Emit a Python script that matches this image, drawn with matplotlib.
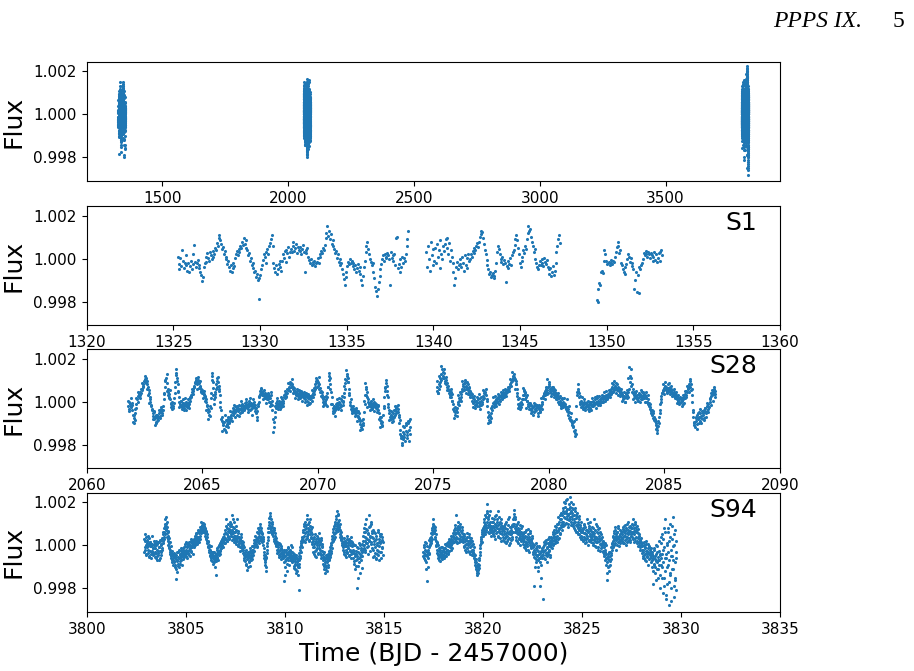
import numpy as np
import matplotlib
matplotlib.use('Agg')
import matplotlib.pyplot as plt

# flux offsets in units of 1e-5 (flux = 1 + v * 1e-5)
# each list is one pass over a continuous stretch of a TESS sector, evenly sampled
# between the stretch start/end time; a second pass over the same stretch fills in the scatter
s1_spans = [(1325.25, 1338.55), (1339.6, 1347.3), (1349.42, 1353.2)]
s1_a = [10, -25, -50, 5, -35, 40, -10, -45, -20, 15,
        -30, -55, -20, -60, -35, -10, -50, -25, 20, 65,
        -15, -40, -20, -5, -45, -30, -60, -75, -105, -85,
        -40, -20, 10, -15, 25, 5, -10, 30, 15, 0,
        10, 35, 20, 50, 40, 75, 60, 95, 110, 85,
        70, 45, 55, 20, 35, 0, 10, -25, -10, -40,
        -55, -30, -60, -45, -20, -35, 5, 20, 35, 15,
        45, 30, 60, 50, 80, 65, 95, 70, 85, 50,
        40, 15, 25, -10, 5, -30, -45, -20, -60, -55,
        -85, -70, -100, -90, -185, -75, -50, -30, -5, 20,
        10, -20, 30, 45, 20, 60, 75, 90, 110, 60,
        -20, -45, -60, -30, -70, -50, -25, -40, -10, -55,
        -10, 20, 5, 35, -15, 40, 25, 55, 10, 30,
        45, 30, 60, 80, 35, 50, 70, 25, 55, 40,
        35, 55, 20, 45, 65, 30, -60, 40, 25, 50,
        10, -5, -20, 0, -30, -15, -25, -10, -35, -20,
        -15, 5, -20, 20, 10, 35, 25, 50, 40, 65,
        95, 120, 150, 105, 130, 90, 115, 70, 85, 60,
        45, 25, 35, 5, 20, -15, 0, -30, -20, -50,
        -70, -95, -120, -85, -60, -35, -15, -25, 0, -20,
        -10, -35, -20, -50, -30, -60, -45, -25, -55, -40,
        -70, -100, -120, -80, -40, -10, 30, 60, 80, 45,
        20, 0, -15, -30, -20, -60, -90, -130, -150, -175,
        -140, -110, -80, -50, -25, 0, 15, -10, 20, 5,
        10, 25, 15, 0, -120, 30, 5, 15, -10, 20,
        -30, 95, 100, -45, -25, -60, 0, -40, 10, -20,
        5, -10, 20, 60, 90, 130]
s1_b = [30, -40, 60, 0, -55, 80, 15, -30, 45, -10,
        50, -20, 70, 10, 40, -45, 85, 20, 0, 60,
        35, 70, 90, 50, 95, 20, 75, -10, 40, 10,
        -20, -60, -120, -90, -40, -15, -50, -30, 0, -25,
        -40, 10, -20, -55, 15, -30, 5, -45, 20, -10,
        0, 20, 10, 35, 25, 50, 40, 60, 75, 55,
        80, 100, 115, 130, 125, 95, 70, 40, 20, -5,
        -30, -50, -70, -60, -85, -75, -65, -80, -90, -55,
        -20, 30, 60, 45, 20, 0, -15, 10, -25, -5,
        -20, -110, -35, -10, -45, -25, 5, -30, 15, 30,
        40, 65, 90, 110, 85, 50, 20, -20, -40, -10,
        10, 40, 25, 60, 45, 90, 120, 150, 130, 140,
        100, 80, 60, 30, 45, 0, -20, -40, -50, -30,
        -10, -30, 0, -20, -35, 5, -15, -25, -5, -40,
        -50, -70, -45, -80, -60, -35, -75, -55, -20, 30,
        60, 90, 110, 75]
s1_c = [-190, -200, -140, -115, -120, -60, -55, -65, -10, 40,
        20, -10, -25, -20, -15, -30, -5, -20, -25, -10,
        -15, 10, 30, 55, 80, 60, 25, 40, -20, -30,
        -50, -60, -40, -70, -25, 0, 20, 10, -15, 5,
        -20, -35, -50, -140, -100, -60, -155, -75, -40, -160,
        -50, -30, -20, 0, 25, 15, 35, 20, 10, 30,
        20, 5, 25, 15, -10, 10, 30, -5, 20, -15,
        5, 25, -10, 30, 40, 15]

s28_spans = [(2061.8, 2074.0), (2075.15, 2087.2)]
s28_a = [-20, 0, -35, -10, -25, 15, -40, -15, -60, -75, -100, -85, -55, -30, -10, 10, 0, 25, 35, 20,
         30, 45, 40, 60, 55, 75, 80, 95, 90, 105, 110, 100, 95, 80, 70, 55, 40, 20, 10, -15,
         -20, -40, -55, -65, -50, -80, -70, -95, -100, -75, -60, -85, -70, -55, -45, -65, -50, -35, -60, -40,
         -20, 10, 40, 70, 100, 110, 85, 50, 30, 45, 20, 35, 10, -10, -25, -15, 0, -30, -20, -5,
         40, 90, 125, 135, 110, 80, 45, 20, 0, -10, -20, 5, -15, -25, 10, -5, -20, -30, -10, 0,
         -15, -25, -5, -20, 0, -10, 15, 5, 30, 20, 45, 60, 50, 75, 70, 90, 85, 100, 95, 80,
         100, 90, 85, 70, 75, 60, 50, 55, 40, 45, 30, 35, 20, 25, 10, 0, -20, -35, -50, -60,
         -45, -65, -30, 40, 100, 120, 90, 30, 10, 20, 45, 60, 80, 95, 110, 90, 75, 60, 30, 0,
         -40, -70, -90, -110, -100, -125, -95, -130, -115, -85, -105, -90, -120, -80, -95, -70, -85, -60, -75, -50,
         -45, -30, -55, -40, -20, -50, -35, -60, -25, -45, -30, -15, -40, -55, -20, -35, -45, -10, -30, -25,
         -20, -5, -30, -15, 0, -25, -35, -10, 5, -20, -40, -15, -5, -30, -20, 10, -10, -25, -45, -15,
         -30, -55, -70, -45, -20, 0, 20, 35, 50, 45, 60, 40, 30, 50, 25, 35, 15, 20, 30, 10,
         20, 35, 10, 25, 0, 15, 30, -10, 5, -40, -80, -120, -95, -50, -20, -5, -15, 5, -25, -10,
         -20, -5, -15, 0, -25, -10, 10, 5, -5, 20, 15, 35, 25, 45, 40, 60, 55, 70, 65, 80,
         90, 85, 75, 80, 60, 70, 50, 55, 40, 45, 30, 50, 35, 25, 40, 20, 45, 30, 35, 25,
         40, 30, 20, 35, 15, 25, 10, 30, 5, 20, 15, 0, 25, 10, -5, 20, 15, 5, 30, 40,
         50, 65, 80, 70, 95, 85, 100, 90, 75, 80, 60, 65, 45, 50, 30, 20, 10, 0, -10, 5,
         -5, 10, -15, 20, 40, 70, 100, 120, 110, 80, 45, 20, -10, -30, -45, -35, -50, -40, -25, -30,
         -20, -5, -30, -15, 0, -25, -10, 10, -20, 5, 0, -15, 20, 40, 60, 85, 100, 120, 130, 110,
         90, 60, 30, 0, -20, -35, -45, -30, -40, -50, -35, -45, -55, -40, -60, -50, -70, -65, -80, -75,
         -90, -105, -120, -110, -125, -100, -80, -50, -10, 30, 60, 70, 45, 20, 0, -10, -20, -5, -15, -25,
         -10, -20, -5, -25, -15, 0, -20, -30, -10, -25, -35, -15, -40, -55, -70, -85, -100, -90, -110, -95,
         -60, -20, 20, 50, 70, 85, 75, 50, 20, -10, -40, -55, -70, -60, -80, -65, -50, -75, -90, -70,
         -60, -40, -30, -45, -20, -35, -50, -70, -100, -130, -150, -170, -190, -160, -140, -175, -120, -150, -185, -135,
         -110, -140, -170, -100, -130, -90, -150, -80]
s28_a2 = [5, -45, -20, -5, -95, -60, -35, 15, 45, 30,
          15, 60, 85, 70, 120, 85, 60, 30, -5, 0,
          -35, -80, -45, -110, -60, -90, -40, -75, -25, -55,
          -40, 35, 95, 130, 60, 15, 55, -5, -35, 15,
          70, 150, 95, 50, -25, 5, -35, -5, -40, 15,
          -40, 10, -30, 20, 25, 60, 35, 70, 110, 60,
          115, 65, 95, 45, 15, 50, 5, -40, -15, -80,
          -20, 15, 135, 65, -10, 35, 70, 115, 50, -25,
          -80, -135, -95, -60, -140, -110, -70, -100, -45, -90,
          -60, -15, -70, -40, -20, -65, -35, 5, -50, -20,
          -40, 10, -25, -50, -5, 15, -35, -60, 0, -30,
          -50, -85, -10, 25, 65, 30, 10, 55, 40, -5,
          40, 0, -20, 45, -15, -140, -70, -30, 15, -35,
          5, -35, 20, -20, 30, 50, 20, 60, 85, 50,
          70, 105, 40, 65, 15, 60, 10, 55, 15, 50,
          5, 45, 0, 40, -15, 35, -10, 25, 55, 20,
          35, 60, 110, 70, 115, 45, 25, 45, -20, 20,
          25, -20, 70, 135, 60, -10, -55, -20, -65, -10,
          10, -35, 15, -40, 25, 5, 75, 105, 145, 90,
          40, -15, 10, -55, -20, -65, -30, -90, -45, -55,
          -130, -85, -110, 5, 85, 30, -25, 10, -40, 5,
          -35, 10, -45, -5, -50, -20, -80, -120, -70, -115,
          -30, 65, 100, 30, -25, -85, -45, -95, -55, -40,
          -20, -55, -15, -60, -85, -160, -200, -115, -165, -100,
          -155, -90, -185, -120]
s28_b = [50, 70, 40, 80, 60, 90, 110, 100, 130, 150, 140, 120, 135, 110, 95, 100, 80, 70, 85, 60,
         55, 40, 50, 30, 45, 20, 35, 5, -10, -30, -45, -60, -50, -40, -65, -30, -10, 0, 15, 5,
         10, 20, 35, 50, 60, 75, 80, 70, 90, 85, 60, 75, 65, 80, 55, 70, 45, 50, 30, 40,
         20, 5, 15, -5, 10, 0, -15, 5, -10, 20, -5, 10, -20, 0, 15, -10, 5, -15, 0, 10,
         25, 40, 50, 35, 45, 30, 10, -20, -50, -70, -85, -90, -65, -75, -55, -40, -20, -5, 0, -10,
         5, -10, 10, 0, 15, -5, 20, 10, 25, 5, 30, 20, 15, 35, 25, 40, 30, 45, 35, 50,
         40, 55, 45, 60, 70, 65, 80, 75, 90, 100, 95, 110, 120, 130, 115, 105, 95, 80, 60, 40,
         10, -10, -20, -5, -15, -25, 0, -10, 10, 30, 50, 55, 40, 45, 20, 30, 5, -10, -20, -5,
         -20, -35, -15, -40, -30, -45, -25, -50, -20, -35, -10, -30, -40, -20, -55, -25, -35, -15, -45, -30,
         -20, 0, -10, 15, 25, 40, 30, 50, 45, 60, 35, 55, 70, 90, 75, 60, 50, 65, 40, 55,
         50, 35, 45, 60, 30, 40, 20, 35, 10, 25, 0, 15, -10, 5, -20, -5, 10, -15, 0, -10,
         -5, -20, -10, -30, -25, -45, -35, -60, -50, -75, -70, -90, -85, -100, -110, -95, -120, -135, -145, -130,
         -80, -20, 30, 60, 50, 40, 20, 0, -10, 5, -20, -5, -15, -25, 0, -10, -30, -20, -5, -15,
         -20, -35, -10, -25, -5, -30, -15, 0, -20, -10, 5, -15, -5, 10, -10, 0, 15, -5, 5, -10,
         0, 10, -5, 15, 5, 20, 0, 10, 25, 15, 5, 20, 30, 10, 25, 35, 20, 40, 30, 45,
         50, 60, 45, 70, 65, 80, 55, 75, 70, 60, 85, 65, 55, 70, 50, 60, 40, 55, 45, 35,
         30, 20, 10, 25, 15, 0, 20, 35, 15, 30, 45, 20, 60, 90, 120, 150, 110, 80, 60, 40,
         30, 15, 25, 40, 20, 10, 30, 15, 5, 20, 35, 25, 10, 30, 20, 45, 25, 15, 35, 20,
         30, 15, 20, 0, 10, -10, -5, -20, -35, -25, -45, -40, -60, -55, -75, -70, -90, -85, -100, -110,
         -120, -130, -115, -100, -70, -40, -10, 10, 25, 40, 55, 50, 65, 60, 75, 55, 70, 45, 60, 50,
         65, 55, 70, 45, 60, 50, 40, 55, 35, 45, 25, 40, 20, 30, 10, 25, 5, 15, 0, 10,
         -5, 10, 0, 15, 5, -10, 10, 20, 15, 35, 30, 50, 45, 65, 60, 80, 75, 95, 70, 55,
         30, 0, -40, -70, -95, -100, -120, -90, -75, -105, -60, -80, -50, -70, -90, -55, -75, -65, -45, -80,
         -60, -40, -75, -50, -30, -55, -20, -45, -35, -10, -25, 0, 10, 25, 40, 30, 55, 45, 60, 35, 50, 20]
s28_b2 = [95, 40, 120, 75, 165, 110, 150, 85, 115, 55,
          75, 20, 60, 5, -35, -75, -25, -50, 30, -15,
          45, 5, 95, 55, 100, 40, 90, 35, 65, 20,
          35, -25, 25, -30, 5, -20, 35, -35, 20, -10,
          55, 15, 60, 5, -100, -60, -95, -30, 20, -25,
          25, -20, 5, 35, -10, 45, 10, 55, 20, 60,
          25, 70, 50, 105, 75, 140, 100, 60, 80, 25,
          -30, 15, -35, 10, 65, 30, 10, -30, 5, -35,
          -5, -55, -20, -60, -5, -45, -15, -65, -20, -50,
          15, -35, 35, 10, 70, 105, 40, 80, 25, 70,
          70, 20, 55, 10, 40, -10, 25, -30, 15, -25,
          15, -35, 10, -50, -20, -85, -55, -115, -90, -160,
          -150, 45, 80, 25, -25, 20, -35, 10, -40, 0,
          5, -45, 0, -40, 15, -20, 20, -30, 25, -15,
          25, -15, 30, 0, 45, 15, 50, 10, 55, 20,
          35, 85, 45, 95, 40, 80, 30, 65, 25, 60,
          5, 45, 0, 40, 55, 110, 160, 75, 45, 10,
          45, 0, 50, 5, 40, 0, 55, 10, 45, 0,
          45, 0, 30, -15, -10, -55, -45, -85, -80, -125,
          -145, -90, -55, 0, 40, 80, 35, 90, 40, 80,
          85, 35, 75, 25, 60, 15, 45, -5, 30, -10,
          20, -20, 30, -5, 50, 20, 75, 45, 105, 80,
          60, -50, -110, -70, -125, -55, -100, -35, -100, -55,
          -85, -30, -70, -5, -50, 15, -15, 40, 5, 70, 35]

s94_spans = [(3802.9, 3814.95), (3817.0, 3829.75)]
s94_a = [30, -20, 50, 0, -40, 20, -10, 45, -35, 10, -50, 15, -25, -5, -60, 5, -30, -15, -45, 0,
         -40, 10, -30, -60, 0, -20, -50, 15, -35, -10, -70, 20, -25, 5, -45, 30, -15, 50, 10, 40,
         60, 90, 120, 100, 75, 110, 40, 60, 20, 45, -10, 10, -30, -20, -50, -35, -70, -45, -60, -90,
         -50, -80, -40, -100, -65, -155, -30, -75, -55, -95, -20, -60, -85, -45, -70, -25, -50, -35, -65, -15,
         -40, -10, -30, 5, -50, -20, 10, -35, -5, -25, 15, -45, 0, -15, 20, -30, 10, -10, 25, -5,
         0, 30, 10, 45, 20, 50, 5, 40, 60, 25, 55, 35, 70, 45, 80, 60, 95, 75, 100, 85,
         90, 60, 75, 45, 65, 30, 50, 10, 20, -10, 0, -30, -20, -50, -35, -60, -40, -75, -55, -30,
         -50, -80, -35, -65, -140, -45, -20, -55, -30, -10, -45, 0, -25, 10, -15, 20, 0, 30, -10, 15,
         25, 40, 10, 55, 120, 30, 50, 20, 65, 40, 75, 35, 60, 90, 45, 100, 70, 140, 85, 55,
         60, 30, 110, 45, 15, 70, 25, 120, 35, 0, 55, 20, 40, -10, 30, 10, 50, -20, 20, 0,
         -20, -45, -60, -30, -75, -50, -90, -40, -65, -100, -35, -55, -80, -25, -60, -45, -70, -20, -50, -30,
         -20, 10, -10, 25, 0, 40, 15, -5, 30, 55, 20, 70, 45, 100, 60, 35, 80, 50, 20, 40,
         0, -30, -60, -80, -45, -100, -55, -20, 10, 40, 80, 110, 60, 150, 90, 120, 70, 100, 50, 80,
         60, 30, 70, 10, 45, 0, 20, -20, 15, -30, -10, -45, -25, 5, -50, -35, -15, -60, -30, -40,
         -60, -165, -30, -75, -140, -45, -20, -60, -85, -35, -10, -55, -25, -70, -40, 0, -50, -80, -30, -45,
         -60, -95, -40, -110, -75, -130, -55, -90, -120, -70, -100, -50, -85, -210, -60, -20, 0, 20, -10, 30,
         40, 70, 20, 90, 55, 110, 30, 80, 140, 45, 65, 100, 25, 75, 50, 120, 35, 60, 15, 85,
         20, -30, 40, -10, 10, -50, 30, -20, 0, 45, -40, 15, -15, 25, -35, 5, -60, 35, -5, -25,
         -40, -70, -55, -95, -80, -130, -60, -100, -75, -120, -50, -90, -35, -65, -20, -45, 0, -25, 15, 30,
         40, 60, 30, 80, 55, 100, 70, 120, 90, 160, 110, 140, 75, 95, 50, 70, 25, 45, 0, 20,
         -10, 15, -30, 5, -45, 20, -20, -5, 30, -35, 0, -15, 25, -50, 10, -25, 40, -40, -5, 15,
         -20, -60, 0, -85, -40, -110, -25, -70, -200, -50, -15, -95, -35, 10, -55, -130, -20, -45, 5, -30,
         20, -20, 60, 0, 100, -30, 40, 10, 75, -10, 30, 55, -40, 140, 20, 90, 45, 110, 5, 65,
         40, -20, 70, -50, 20, -10, 55, -60, 30, 0, -40, 60, -25, 15, -70, 45, 10, -30, 50, -15, 25, -45]
s94_a2 = [-30, 20, -10, 40, -45, 10, 25, -20, 0, -55, 35, -5, 15, -40, 5, -25, 45, -15, -35, 20,
          0, -55, -15, 20, -35, -70, 5, -25, -45, 15, -10, -60, 25, -30, 0, -20, 35, 20, 60, 30,
          80, 50, 100, 70, 130, 55, 85, 30, 65, 0, 35, -15, 15, -40, -5, -60, -25, -80, -40, -70,
          -75, -35, -90, -55, -110, -45, -70, -125, -30, -85, -60, -100, -40, -75, -15, -55, -90, -30, -45, -20,
          -25, -55, -5, -40, 15, -30, -10, -60, 0, -35, -20, 5, -50, -15, 30, -25, -5, 15, -40, 10,
          15, -10, 35, 0, 25, 55, 10, 30, 70, 40, 15, 60, 85, 30, 55, 110, 70, 90, 60, 105,
          75, 100, 55, 80, 35, 60, 20, 40, -5, 15, -20, -10, -45, -25, -5, -70, -45, -30, -85, -50,
          -65, -30, -100, -55, -75, -40, -60, -15, -35, -70, -25, -5, -40, -20, 5, -15, 15, -5, 25, 40,
          50, 10, 70, 35, 90, 55, 20, 80, 45, 100, 60, 30, 110, 70, 50, 90, 25, 65, 120, 40,
          45, 80, 15, 60, 35, 90, 5, 45, 20, 65, -5, 35, 10, -25, 25, -5, 40, 0, -15, 15,
          -35, -70, -10, -55, -40, -85, -20, -50, -115, -60, -30, -75, -45, -95, -15, -55, -35, -65, -5, -45,
          -5, 25, -25, 15, 45, 5, 20, 60, -10, 35, 80, 10, 55, 25, 85, 40, 65, 15, 55, 30,
          20, -15, -45, -70, -90, -60, -120, -35, -5, 25, 60, 95, 125, 80, 135, 105, 60, 85, 110, 65,
          45, 80, 20, 55, 30, -5, 35, 10, -35, 0, -20, -55, 10, -40, -20, -65, -5, -50, -20, -55,
          -45, -80, -20, -100, -50, -30, -65, -120, -40, -15, -70, -45, -90, -20, -55, -30, -70, -10, -60, -35,
          -75, -50, -105, -65, -85, -45, -115, -80, -60, -140, -90, -70, -35, -100, -50, -10, -30, 10, 40, 15,
          60, 25, 100, 45, 75, 15, 95, 60, 120, 35, 80, 50, 110, 20, 65, 90, 40, 75, 5, 50,
          -10, 30, -40, 5, 50, -25, 20, -55, 10, -15, 35, -35, 0, 55, -20, 15, -45, 25, -10, 5,
          -55, -85, -30, -110, -65, -90, -45, -115, -80, -60, -100, -40, -70, -25, -55, -10, -35, 10, -15, 45,
          20, 75, 50, 90, 40, 110, 60, 135, 80, 100, 145, 65, 115, 85, 40, 100, 60, 30, 10, 35,
          5, -20, 35, -40, -5, 20, -55, 10, -30, 45, -15, 15, -45, 30, 0, -20, 20, -60, 10, -30,
          -35, 5, -75, -25, -50, 0, -95, -40, -65, -10, -150, -30, -60, -80, 0, -40, -70, -15, -105, -50,
          0, 45, -15, 80, 20, -20, 60, 35, 120, 10, 70, -5, 50, 25, 85, -25, 40, 100, 15, 55,
          -15, 35, -55, 60, 5, -35, 25, -65, 45, -20, 10, 70, -45, 30, -5, 50, -30, 20, -60, 40, -10, 15]
s94_b = [-30, 0, -60, -20, -45, 10, -80, -165, -50, -30, -100, -10, -40, 20, 0, 40, 20, 70, 50, 90,
         100, 80, 60, 40, 70, 20, 0, -20, 10, -40, -60, -25, -70, -45, -20, -55, -35, -65, -10, -50,
         -60, -30, -45, -15, -50, 0, -35, -20, 10, -40, -5, 20, -25, 15, -10, 30, 0, 25, -15, 40,
         20, 60, 35, 80, 50, 140, 40, 70, 10, 90, 55, 30, 75, 45, 100, 25, 65, 40, 85, 50,
         30, -10, 45, 0, 20, -30, 35, -15, 55, 10, -25, 40, 5, -40, 25, -5, 15, -20, 0, -35,
         -20, -50, -40, -70, -90, -80, -110, -120, -140, -100, -130, -90, -60, -30, 0, 20, 40, 60, 50, 80,
         60, 90, 70, 110, 50, 100, 130, 80, 150, 190, 120, 60, 95, 140, 75, 110, 45, 85, 125, 65,
         90, 50, 120, 70, 100, 30, 85, 140, 60, 110, 40, 95, 75, 130, 55, 80, 20, 105, 65, 90,
         40, 80, 20, 65, 100, 35, 55, 10, 75, 45, 120, 30, 60, 0, 85, 50, 25, 70, 40, 95,
         60, 100, 130, 165, 120, 80, 40, 90, 20, 70, 50, 110, 30, 60, 0, 45, 80, 25, 55, 35,
         20, 50, -10, 35, 0, 60, 15, -20, 40, 5, 75, 25, -30, 30, 10, 55, -15, 20, -5, 45,
         -10, -40, -190, 0, -60, -30, -80, 10, -50, -20, -70, -100, -40, -5, -60, -190, -25, -90, -45, -15,
         -250, -30, 0, -60, 20, -20, -45, 10, -80, -10, 30, -40, -5, 40, -25, 15, -55, 5, 25, -15,
         20, 50, 0, 40, 70, 10, 55, 30, 85, 45, 15, 65, 100, 35, 80, 120, 50, 95, 150, 70,
         110, 160, 90, 200, 130, 180, 100, 150, 210, 120, 170, 85, 140, 190, 115, 225, 130, 160, 95, 175,
         150, 100, 190, 120, 80, 160, 110, 60, 140, 90, 130, 50, 100, 70, 120, 40, 85, 60, 30, 75,
         60, 20, 80, 40, 100, 10, 55, 70, 30, 120, 45, 0, 65, 90, 25, 50, 75, 15, 40, 85,
         30, 60, 0, 45, 120, 20, 70, -10, 40, 90, 15, 55, -20, 35, 80, 5, 25, -15, 50, 10,
         -10, 20, -30, 0, -50, -20, 10, -60, -40, -160, -80, -100, -55, -120, -70, -30, -90, -45, -65, -20,
         -10, 20, 40, 0, 55, 25, 70, 10, 45, -20, 35, 60, 15, 80, 30, -5, 50, 20, 65, 40,
         30, 60, 10, 75, 45, 90, 25, 55, 0, 70, 40, 100, 20, 50, 85, 35, 65, 15, 80, 45,
         60, 100, 30, 120, 50, 80, 20, 110, 70, 40, 90, 10, 55, 75, 0, 45, 25, -10, 35, 15,
         -20, 10, -50, -30, 0, -60, -15, -40, 20, -75, -25, -50, 5, -35, -65, -10, -45, -20, -80, -30,
         -40, -100, -180, -60, -20, -90, -130, -50, -75, 0, -110, -30, -150, -70, 20, -90, -40, -200, -60, 40,
         -100, 50, -220, -20, 80, -150, -60, 120, -250, -40, 10, -180, 60, -90, -280, 20, -130, 100, -50, -200,
         30, -110, 130, -70, -240, 0, -160, 70, -30, -210]
s94_b2 = [-50, -10, -35, 15, -70, -25, -110, -40, -5, -60, -20, 25, -35, 5, 35, 10, 55, 30, 80, 60,
          120, 90, 55, 85, 30, 50, -5, 15, -35, 0, -45, -15, -55, -30, -75, -40, -10, -60, -30, -20,
          -45, -15, -60, -30, 5, -25, -50, 0, -20, 15, -35, 5, 30, -5, 20, -20, 45, 10, 25, 55,
          45, 15, 70, 30, 95, 55, 20, 80, 35, 110, 60, 15, 50, 85, 30, 65, 20, 55, 70, 35,
          15, 50, -5, 30, -20, 25, 5, 40, -15, 20, 0, 50, -30, 10, -10, 35, -25, 20, -45, 5,
          -30, -10, -60, -45, -80, -65, -100, -90, -130, -115, -85, -105, -70, -45, -15, 10, 30, 15, 70, 45,
          75, 50, 120, 85, 60, 140, 95, 70, 110, 160, 85, 130, 55, 100, 70, 160, 90, 60, 110, 80,
          60, 110, 85, 45, 135, 70, 95, 55, 120, 80, 160, 45, 100, 65, 110, 35, 90, 120, 50, 75,
          70, 25, 90, 50, 15, 80, 110, 45, 60, 20, 95, 55, 35, 130, 65, 10, 50, 85, 30, 60,
          90, 120, 145, 100, 60, 130, 70, 25, 100, 55, 80, 10, 70, 35, 95, 50, 20, 60, 90, 45,
          35, 5, 60, 20, -15, 45, 10, 70, -5, 30, 50, -20, 15, 40, 0, 65, 25, -10, 35, 10,
          -30, 5, -55, -20, -100, -40, -15, -65, -5, -45, -120, -25, -60, -10, -80, -35, -50, -150, -20, -60,
          -10, -45, 15, -25, -65, 5, -35, 25, -15, -50, 10, -30, 35, -20, 0, -45, 20, -10, 40, 10,
          35, 5, 60, 25, 45, 90, 20, 70, 40, 100, 60, 130, 30, 75, 110, 55, 140, 85, 120, 100,
          140, 110, 175, 95, 150, 125, 195, 105, 160, 135, 215, 100, 145, 170, 120, 180, 150, 110, 200, 135,
          120, 170, 90, 140, 110, 175, 70, 125, 95, 150, 60, 110, 80, 135, 50, 95, 70, 110, 45, 65,
          40, 75, 25, 95, 55, 30, 85, 50, 15, 70, 35, 105, 60, 20, 80, 45, 110, 30, 65, 50,
          45, 10, 80, 25, 55, -5, 35, 100, 15, 60, 30, -10, 75, 20, 45, -25, 60, 30, 0, 40,
          5, -25, 15, -40, -10, -70, -30, 0, -90, -55, -130, -65, -40, -95, -30, -75, -50, -10, -35, 5,
          10, 45, -10, 30, 65, 5, 40, 85, 25, 50, 0, 60, 35, 90, 20, 45, 70, 10, 55, 25,
          50, 20, 85, 40, 65, 10, 95, 45, 30, 80, 55, 15, 70, 110, 35, 60, 25, 90, 50, 60,
          40, 80, 55, 95, 15, 65, 100, 35, 85, 60, 20, 70, 35, -5, 50, 15, 30, -20, 10, 0,
          -35, -5, -60, -20, 15, -45, -10, -70, -25, 5, -55, -35, -15, -90, -40, -5, -60, -30, -50, -15,
          -70, -30, -120, -50, -85, -15, -100, -65, -160, -40, -80, -5, -55, -110, -25, -70, -140, -45, 10, -90,
          -40, -150, 30, -80, -190, -10, -120, 60, -60, -230, 0, -100, 80, -30, -170, -70, 40, -140, -20, -260,
          -50, 90, -110, -5, -190, 50, -80, -150, 20, -60]

sector_names = ['S1', 'S28', 'S94']
sector_xlims = [(1320, 1360), (2060, 2090), (3800, 3835)]
top_xticks = [1500, 2000, 2500, 3000, 3500]


def build(pieces):
    # evenly spaced times inside each stretch, flux = 1 + offset
    t, f = [], []
    for (t0, t1), vals in pieces:
        t.append(np.linspace(t0, t1, len(vals)))
        f.append(1 + np.array(vals) * 1e-5)
    return np.concatenate(t), np.concatenate(f)


sectors = [build([(s1_spans[0], s1_a), (s1_spans[1], s1_b), (s1_spans[2], s1_c)]),
           build([(s28_spans[0], s28_a), (s28_spans[0], s28_a2),
                  (s28_spans[1], s28_b), (s28_spans[1], s28_b2)]),
           build([(s94_spans[0], s94_a), (s94_spans[0], s94_a2),
                  (s94_spans[1], s94_b), (s94_spans[1], s94_b2)])]

t_all = np.concatenate([s[0] for s in sectors])
f_all = np.concatenate([s[1] for s in sectors])

fig = plt.figure(figsize=(9.14, 6.71), dpi=100)

# panel positions (figure fraction)
left, width, height = 0.0949, 0.7585, 0.178
bottoms = [0.730, 0.515, 0.302, 0.088]
axes = [fig.add_axes([left, b, width, height]) for b in bottoms]

ms = 5
col = '#1f77b4'

# full light curve
ax = axes[0]
ax.scatter(t_all, f_all, s=ms, c=col, linewidths=0)
ax.set_xticks(top_xticks)

# one panel per sector
for ax, (t, f), name, xl in zip(axes[1:], sectors, sector_names, sector_xlims):
    ax.scatter(t, f, s=ms, c=col, linewidths=0)
    ax.set_xlim(xl)
    ax.text(0.967, 0.795, name, transform=ax.transAxes, ha='right', va='baseline', fontsize=18)

for ax in axes:
    ax.set_ylim(0.99690, 1.00245)
    ax.set_yticks([0.998, 1.000, 1.002])
    ax.set_yticklabels(['0.998', '1.000', '1.002'])
    ax.tick_params(labelsize=11)
    ax.set_ylabel('Flux', fontsize=18)
    ax.yaxis.set_label_coords(-0.089, 0.5)

axes[-1].set_xlabel('Time (BJD - 2457000)', fontsize=18, labelpad=4)

# page header of the paper
fig.text(773 / 914, 1 - 27 / 671, 'PPPS IX.', family='Liberation Serif', style='italic',
         fontsize=17, va='baseline')
fig.text(893 / 914, 1 - 27 / 671, '5', family='Liberation Serif', fontsize=17, va='baseline')

plt.savefig('out.png', dpi=100)
